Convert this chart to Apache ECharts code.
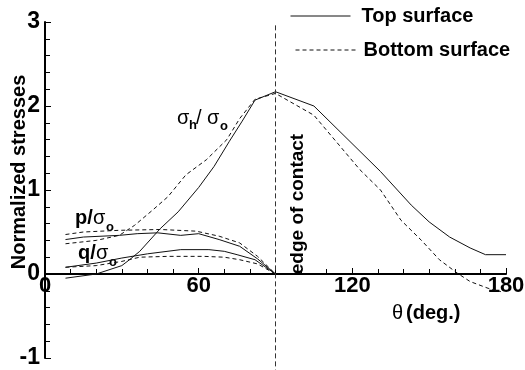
<!DOCTYPE html>
<html>
<head>
<meta charset="utf-8">
<script src="https://cdn.jsdelivr.net/npm/echarts@6/dist/echarts.min.js"></script>
<style>
html,body{margin:0;padding:0;background:#fff;}
#main{width:525px;height:370px;}
</style>
</head>
<body>
<div id="main"></div>
<script>
// hoop stress  sigma_h / sigma_o
var sigmaTopX = [8, 20, 30, 33, 37, 45, 52, 60, 66, 72, 77, 82, 90, 105, 123, 131, 143, 150, 158, 166, 172, 180];
var sigmaTopY = [-0.05, 0.0, 0.1, 0.17, 0.27, 0.54, 0.74, 1.03, 1.28, 1.58, 1.82, 2.07, 2.17, 2.0, 1.46, 1.22, 0.82, 0.62, 0.44, 0.31, 0.23, 0.23];
var sigmaBotX = [8, 20, 29, 35, 42, 48, 55, 63, 71, 76, 82, 90, 105, 123, 131, 139, 147, 154, 161, 166, 173, 178];
var sigmaBotY = [0.36, 0.4, 0.46, 0.58, 0.76, 0.92, 1.18, 1.36, 1.6, 1.85, 2.08, 2.15, 1.89, 1.24, 1.0, 0.64, 0.4, 0.17, 0.01, -0.09, -0.17, -0.21];
// pressure  p / sigma_o
var pTopX = [8, 15, 29, 36, 44, 53, 60, 68, 76, 83, 90];
var pTopY = [0.41, 0.44, 0.46, 0.48, 0.49, 0.46, 0.48, 0.41, 0.33, 0.18, 0];
var pBotX = [8, 15, 29, 45, 59, 68, 76, 83, 90];
var pBotY = [0.47, 0.5, 0.52, 0.53, 0.51, 0.45, 0.37, 0.21, 0];
// shear  q / sigma_o
var qTopX = [8, 20, 30, 40, 53, 64, 70, 75, 82, 90];
var qTopY = [0.08, 0.13, 0.19, 0.24, 0.29, 0.29, 0.27, 0.23, 0.17, 0];
var qBotX = [8, 20, 30, 37, 48, 62, 70, 76, 83, 90];
var qBotY = [0.08, 0.1, 0.15, 0.2, 0.21, 0.21, 0.2, 0.17, 0.12, 0];
// edge of contact
var edgeX = 90;
var edgeY = [2.96, -1.14];

var xTicks = [0, 60, 120, 180];
var yTicks = [-1, 0, 1, 2, 3];

var FONT = "'Liberation Sans', Arial, Helvetica, sans-serif";

function pairs(xs, ys){
	var out = [];
	for(var i = 0; i < xs.length; i++){
		out.push([xs[i], ys[i]]);
	}
	return out;
}

function curve(name, xs, ys, dashed){
	return {
		name: name,
		type: 'line',
		symbol: 'none',
		silent: true,
		color: '#111',
		data: pairs(xs, ys),
		lineStyle: {color: '#111', width: 1, type: dashed ? [4, 3] : 'solid'}
	};
}

function txt(x, y, s, size, bold, opts){
	var st = {
		text: s,
		font: (bold ? 'bold ' : '') + size + 'px ' + FONT,
		fill: '#000',
		textAlign: 'left',
		textVerticalAlign: 'middle'
	};
	var el = {type: 'text', x: x, y: y, silent: true, style: st};
	if(opts){
		if(opts.align) st.textAlign = opts.align;
		if(opts.rotation) el.rotation = opts.rotation;
	}
	return el;
}

function legendBox(name, left, top, gap){
	return {
		data: [name],
		padding: 0,
		left: left, top: top,
		itemWidth: 60, itemHeight: 20,
		itemStyle: {opacity: 0},          // only the line, no symbol
		lineStyle: {width: 1},
		textStyle: {fontFamily: FONT, fontWeight: 'bold', fontSize: 20, color: '#000', padding: [0, 0, 0, gap]}
	};
}

var myChart = echarts.init(document.getElementById('main'));

// grid: y=3 at 22px, y=-1 at 358px -> 84px per unit, zero line 84px above bottom
var option = {
	animation: false,
	backgroundColor: '#fff',
	grid: {left: 45, right: 19, top: 22, bottom: 12, outerBoundsMode: 'none', containLabel: false},
	legend: [
		legendBox('Top surface', 290, 6, 6),
		legendBox('Bottom surface', 295, 40, 3)
	],
	xAxis: {
		type: 'value',
		position: 'bottom',
		offset: -84,
		min: xTicks[0], max: xTicks[xTicks.length - 1], interval: 60,
		axisLine: {onZero: false, lineStyle: {color: '#000', width: 2}},
		axisTick: {inside: true, length: 6, lineStyle: {color: '#000', width: 1}},
		minorTick: {show: true, splitNumber: 6, length: 5, lineStyle: {color: '#000', width: 1}},
		splitLine: {show: false},
		axisLabel: {margin: 1, fontFamily: FONT, fontWeight: 'bold', fontSize: 22, color: '#000'}
	},
	yAxis: {
		type: 'value',
		min: yTicks[0], max: yTicks[yTicks.length - 1], interval: 1,
		axisLine: {show: true, onZero: false, lineStyle: {color: '#000', width: 2}},
		axisTick: {show: true, inside: true, length: 6, lineStyle: {color: '#000', width: 1}},
		minorTick: {show: true, splitNumber: 5, length: 5, lineStyle: {color: '#000', width: 1}},
		splitLine: {show: false},
		axisLabel: {margin: 5, fontFamily: FONT, fontWeight: 'bold', fontSize: 23, color: '#000'}
	},
	series: [
		curve('Top surface', sigmaTopX, sigmaTopY, false),
		curve('Top surface', pTopX, pTopY, false),
		curve('Top surface', qTopX, qTopY, false),
		curve('Bottom surface', sigmaBotX, sigmaBotY, true),
		curve('Bottom surface', pBotX, pBotY, true),
		curve('Bottom surface', qBotX, qBotY, true),
		{
			name: 'edge',
			type: 'line',
			symbol: 'none',
			silent: true,
			clip: false,
			color: '#333',
			data: [[edgeX, edgeY[0]], [edgeX, edgeY[1]]],
			lineStyle: {color: '#333', width: 1, type: [5, 3]}
		}
	],
	graphic: [
		// axis names
		txt(19, 172, 'Normalized stresses', 20, true, {align: 'center', rotation: Math.PI / 2}),
		txt(392, 313, 'θ', 20, false),
		txt(406, 313, '(deg.)', 20, true),
		txt(298, 204, 'edge of contact', 19, true, {align: 'center', rotation: Math.PI / 2}),
		// sigma_h / sigma_o
		txt(177, 118, 'σ', 20, false),
		txt(189, 125, 'h', 13, true),
		txt(196, 118, '/ σ', 20, false),
		txt(220, 126, 'o', 13, true),
		// p / sigma_o
		txt(75, 218, 'p/', 20, true),
		txt(93, 218, 'σ', 20, false),
		txt(106, 227, 'o', 13, true),
		// q / sigma_o
		txt(78, 253, 'q/', 20, true),
		txt(96, 253, 'σ', 20, false),
		txt(109, 262, 'o', 13, true)
	]
};
myChart.setOption(option);
</script>
</body>
</html>
